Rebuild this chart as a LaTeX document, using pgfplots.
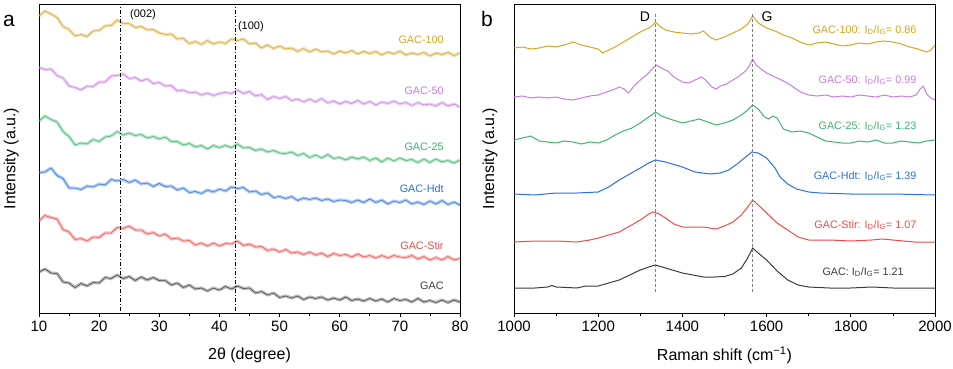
\documentclass[border=0pt]{standalone}
\usepackage{fontspec}
\setmainfont{Liberation Sans}
\usepackage{pgfplots}
\pgfplotsset{compat=1.18}
\definecolor{cgold}{HTML}{D6A520}
\definecolor{cpurp}{HTML}{C77DE0}
\definecolor{cgreen}{HTML}{3CB371}
\definecolor{cblue}{HTML}{2A6FE0}
\definecolor{cred}{HTML}{F04A4A}
\definecolor{cblack}{HTML}{3C3C3C}
\pgfplotsset{
  panel/.style={
    scale only axis, width=421pt, height=309pt,
    ymin=0, ymax=309, ytick=\empty,
    axis line style={black, line width=0.8pt},
    tick align=outside, xtick pos=bottom,
    major tick length=4pt, minor tick length=2.5pt,
    tick style={black, line width=0.7pt},
    minor x tick num=1,
    /pgf/number format/assume math mode=true,
    /pgf/number format/1000 sep={},
    ticklabel style={font=\fontsize{15}{17}\selectfont},
    label style={font=\fontsize{16}{18}\selectfont},
    clip=false,
  },
  xrdb/.style={line width=3.2pt, opacity=0.35, line join=round},
  xrd/.style={line width=0.5pt},
  ram/.style={line width=1pt},
}
\begin{document}
\begin{tikzpicture}[x=1pt,y=1pt]
\useasboundingbox (0,0) rectangle (953,368);
\node[font=\fontsize{21}{23}\selectfont, anchor=center] at (9,347) {a};
\node[font=\fontsize{21}{23}\selectfont, anchor=center] at (487,349) {b};
% ---------------- left panel: XRD ----------------
\begin{axis}[panel, at={(39pt,55pt)}, anchor=south west,
  xmin=10, xmax=80, xtick={10,20,...,80},
  xlabel={2θ (degree)},
  ylabel={Intensity (a.u.)},
  ylabel style={at={(axis description cs:-0.066,0.5)}, anchor=center},
  xlabel style={at={(axis description cs:0.5,-0.136)}, anchor=center},
]
% GAC
\def\gac{(10,41)(11,44)(12,40)(13,39.5)(14,31)(15,30)(16,25.5)(17,29.5)(18,27)(19,30.5)(20,30)(21,35.5)(22,34.5)(23,38)(24,34.5)(25,36.5)(26,32.5)(27,36)(28,33)(29,35.5)(30,32.5)(31,32.5)(32,28)(33,30)(34,25.5)(35,28)(36,24)(37,25)(38,22)(39,25)(40,23)(41,26.5)(42,24)(43,27)(44,24.5)(45,25)(46,20)(47,21.5)(48,18)(49,20)(50,15.5)(51,17)(52,15)(53,17)(54,13.5)(55,16)(56,14.5)(57,16)(58,13)(59,15)(60,13)(61,16)(62,12.5)(63,14)(64,12)(65,14.5)(66,12)(67,14)(68,11)(69,14.5)(70,12.5)(71,13.5)(72,11)(73,14.5)(74,11)(75,12.5)(76,10.5)(77,13)(78,10.5)(79,13)(80,11)}
\addplot[cblack, xrdb] coordinates {\gac};
\addplot[cblack, xrd] coordinates {\gac};
% GAC-Stir
\def\stir{(10,92)(11,97.5)(12,95.5)(13,94)(14,83.5)(15,81)(16,73.5)(17,74.5)(18,72)(19,76)(20,75.5)(21,80)(22,80)(23,85.5)(24,84.5)(25,87)(26,83)(27,83)(28,79)(29,80.5)(30,77)(31,79)(32,74)(33,75)(34,72)(35,72.5)(36,68)(37,70)(38,67)(39,70)(40,67)(41,69.5)(42,69)(43,72)(44,67.5)(45,69)(46,66)(47,66.5)(48,62.5)(49,64)(50,61)(51,63.5)(52,60)(53,61)(54,58.5)(55,61)(56,58)(57,60)(58,56.5)(59,59.5)(60,57.5)(61,58.5)(62,56)(63,59)(64,56)(65,57.5)(66,55)(67,57.5)(68,55)(69,57.5)(70,56)(71,55.5)(72,57.5)(73,54)(74,56.5)(75,53)(76,55.5)(77,53)(78,56.5)(79,53)(80,54.5)}
\addplot[cred, xrdb] coordinates {\stir};
\addplot[cred, xrd] coordinates {\stir};
% GAC-Hdt
\def\hdt{(10,140.5)(11,141)(12,145)(13,137.5)(14,134.5)(15,125)(16,125)(17,123.5)(18,127)(19,126)(20,129)(21,128)(22,133.5)(23,132)(24,133.5)(25,130.5)(26,133)(27,129)(28,130)(29,126.5)(30,129.5)(31,126.5)(32,127)(33,123)(34,125)(35,120.5)(36,121.5)(37,119.5)(38,123)(39,121)(40,124)(41,122)(42,126)(43,124.5)(44,125.5)(45,121)(46,122)(47,118.5)(48,120)(49,115.5)(50,116.5)(51,114.5)(52,116.5)(53,112.5)(54,115)(55,113.5)(56,115)(57,112.5)(58,114)(59,111.5)(60,113)(61,112.5)(62,110.5)(63,113)(64,110.5)(65,114)(66,110.5)(67,113)(68,109)(69,112)(70,110.5)(71,113)(72,109)(73,111)(74,108.5)(75,112)(76,109)(77,112.5)(78,108.5)(79,111)(80,108)}
\addplot[cblue, xrdb] coordinates {\hdt};
\addplot[cblue, xrd] coordinates {\hdt};
% GAC-25
\def\gtf{(10,192)(11,197)(12,193.5)(13,191)(14,181.5)(15,176.5)(16,168)(17,170)(18,169)(19,173.5)(20,171.5)(21,176)(22,177)(23,181.5)(24,178)(25,180)(26,177.5)(27,178.5)(28,175)(29,176.5)(30,174)(31,176)(32,171.5)(33,171.5)(34,168)(35,169.5)(36,166)(37,167.5)(38,164)(39,167.5)(40,165.5)(41,167.5)(42,165.5)(43,169)(44,165)(45,165.5)(46,162.5)(47,164)(48,161)(49,162.5)(50,160)(51,159.5)(52,161)(53,157.5)(54,159.5)(55,155.5)(56,158)(57,155)(58,158.5)(59,154.5)(60,155.5)(61,153)(62,156)(63,154)(64,156)(65,152.5)(66,155)(67,151)(68,155)(69,152)(70,155)(71,152.5)(72,153.5)(73,150.5)(74,154)(75,150.5)(76,154)(77,151)(78,152.5)(79,150)(80,153)}
\addplot[cgreen, xrdb] coordinates {\gtf};
\addplot[cgreen, xrd] coordinates {\gtf};
% GAC-50
\def\gff{(10,245.5)(11,243.5)(12,244)(13,237.5)(14,235)(15,227)(16,225.5)(17,223)(18,227)(19,226.5)(20,231)(21,231)(22,237)(23,237.5)(24,239)(25,234.5)(26,235.5)(27,232)(28,234)(29,229.5)(30,230.5)(31,227)(32,227.5)(33,222)(34,223)(35,220)(36,221)(37,218)(38,220)(39,217.5)(40,219.5)(41,220.5)(42,219.5)(43,223)(44,219.5)(45,221.5)(46,217)(47,218.5)(48,213.5)(49,216.5)(50,214.5)(51,216.5)(52,212.5)(53,214)(54,211)(55,214)(56,211)(57,214.5)(58,210)(59,212)(60,209)(61,211.5)(62,209.5)(63,212.5)(64,209)(65,211.5)(66,208)(67,211)(68,209.5)(69,212)(70,209)(71,210.5)(72,207.5)(73,210.5)(74,208)(75,209)(76,207)(77,210.5)(78,207)(79,209)(80,206)}
\addplot[cpurp, xrdb] coordinates {\gff};
\addplot[cpurp, xrd] coordinates {\gff};
% GAC-100
\def\ghd{(10,297)(11,302)(12,299)(13,295.5)(14,286.5)(15,283.5)(16,277)(17,278.5)(18,276.5)(19,282)(20,282.5)(21,287)(22,287.5)(23,293)(24,289.5)(25,289.5)(26,285.5)(27,286.5)(28,283)(29,283.5)(30,280)(31,278.5)(32,279)(33,274)(34,274.5)(35,269.5)(36,271.5)(37,268.5)(38,272.5)(39,269)(40,271)(41,269.5)(42,274)(43,272.5)(44,274)(45,269)(46,270)(47,265)(48,268)(49,264.5)(50,267)(51,264)(52,265)(53,261.5)(54,264.5)(55,261)(56,264)(57,261)(58,262)(59,259)(60,262)(61,260)(62,262.5)(63,259)(64,261.5)(65,259.5)(66,261.5)(67,258)(68,261)(69,259)(70,262)(71,258)(72,260)(73,258.5)(74,260.5)(75,257)(76,260)(77,258.5)(78,260.5)(79,257.5)(80,260)}
\addplot[cgold, xrdb] coordinates {\ghd};
\addplot[cgold, xrd] coordinates {\ghd};
% reference lines
\addplot[black, line width=0.9pt, dash pattern=on 4pt off 2pt on 1pt off 2pt] coordinates {(23.6,2) (23.6,306)};
\addplot[black, line width=0.9pt, dash pattern=on 4pt off 2pt on 1pt off 2pt] coordinates {(42.6,2) (42.6,306)};
\node[font=\fontsize{11}{12}\selectfont, anchor=center] at (axis cs:27.3,298) {(002)};
\node[font=\fontsize{11}{12}\selectfont, anchor=west, inner sep=1pt] at (axis cs:42.9,286) {(100)};
% curve labels
\begin{scope}[every node/.style={font=\fontsize{10.8}{12}\selectfont, anchor=east, inner sep=0pt}]
\node[text=cgold] at (axis cs:77.3,273) {GAC-100};
\node[text=cpurp] at (axis cs:77.3,222) {GAC-50};
\node[text=cgreen] at (axis cs:77.3,166) {GAC-25};
\node[text=cblue] at (axis cs:77.3,124) {GAC-Hdt};
\node[text=cred] at (axis cs:77.3,67) {GAC-Stir};
\node[text=cblack] at (axis cs:77.3,27) {GAC};
\end{scope}
\end{axis}
% ---------------- right panel: Raman ----------------
\begin{axis}[panel, at={(514pt,55pt)}, anchor=south west,
  xmin=1000, xmax=2000, xtick={1000,1200,...,2000},
  xlabel={Raman shift (cm\textsuperscript{−1})},
  ylabel={Intensity (a.u.)},
  ylabel style={at={(axis description cs:-0.057,0.5)}, anchor=center},
  xlabel style={at={(axis description cs:0.5,-0.136)}, anchor=center},
]
\addplot[cblack, ram] coordinates {(1000,25)(1050,25)(1080,26)(1090,27.5)(1100,26)(1150,25)(1170,27)(1200,27)(1225,30)(1250,33)(1275,38)(1300,43)(1320,46)(1336,48)(1360,45)(1400,40)(1425,38)(1450,36)(1475,36)(1500,36.5)(1520,39)(1540,45)(1555,55)(1567,65)(1580,60)(1600,53)(1625,42)(1650,33)(1675,28)(1700,26)(1750,25)(1800,25)(1850,26)(1900,25)(1950,25)(2000,25)};
\addplot[cred, ram] coordinates {(1000,71)(1050,72)(1100,72)(1150,71)(1180,73)(1200,75)(1225,78)(1250,81)(1275,87)(1300,93)(1320,99)(1330,101)(1345,99)(1360,95)(1380,89)(1400,86)(1430,86)(1450,86)(1480,84)(1500,87)(1520,91)(1540,98)(1555,106)(1567,113)(1580,108)(1600,100)(1625,90)(1650,83)(1675,76)(1700,73)(1750,73)(1800,72)(1850,73)(1875,74)(1900,73)(1950,71)(2000,71)};
\addplot[cblue, ram] coordinates {(1000,119)(1050,118)(1100,120)(1150,120)(1200,121)(1225,126)(1250,133)(1275,139)(1300,145)(1320,150)(1336,153)(1360,151)(1400,146)(1430,141)(1466,139)(1490,140)(1510,143)(1530,149)(1550,156)(1565,161)(1580,160)(1600,155)(1620,145)(1632,136)(1650,129)(1671,124)(1700,121)(1727,120)(1800,119)(1900,119)(2000,118)};
\addplot[cgreen, ram] coordinates {(1000,173)(1020,175)(1040,177)(1060,172)(1080,171)(1100,170)(1120,172)(1140,171)(1160,169)(1180,171)(1200,170)(1220,173)(1240,178)(1260,182)(1280,185)(1300,190)(1320,196)(1336,201)(1350,197)(1370,194)(1400,190)(1420,192)(1440,194)(1460,191)(1480,188)(1500,190)(1520,193)(1540,198)(1555,203)(1567,208)(1580,204)(1595,196)(1605,194)(1615,197)(1625,195)(1640,184)(1660,181)(1680,182)(1700,180)(1720,176)(1740,172)(1760,171)(1780,170)(1800,170)(1820,172)(1840,171)(1860,173)(1880,170)(1900,170)(1920,172)(1940,171)(1960,170)(1980,172)(2000,173)};
\addplot[cpurp, ram] coordinates {(1000,216)(1020,217)(1040,215)(1060,216)(1080,215)(1100,216)(1120,214)(1140,213)(1160,215)(1180,217)(1200,218)(1220,221)(1240,224)(1250,226)(1262,224)(1272,220)(1285,227)(1300,233)(1315,238)(1330,245)(1338,248)(1350,245)(1365,242)(1380,236)(1400,231)(1415,230)(1430,233)(1445,236)(1455,233)(1470,226)(1480,224)(1490,227)(1505,229)(1520,233)(1535,237)(1550,242)(1560,248)(1567,254)(1575,248)(1590,243)(1600,240)(1620,236)(1640,232)(1660,227)(1680,221)(1700,218)(1720,217)(1740,218)(1760,216)(1780,217)(1800,216)(1820,218)(1840,217)(1860,216)(1880,218)(1900,216)(1920,217)(1940,216)(1955,218)(1965,224)(1972,227)(1980,219)(1990,215)(2000,213)};
\addplot[cgold, ram] coordinates {(1000,265)(1020,266)(1040,264)(1060,265)(1080,267)(1100,266)(1120,268)(1140,271)(1160,268)(1180,266)(1200,264)(1210,260)(1220,262)(1240,266)(1260,271)(1280,276)(1300,281)(1320,285)(1330,288)(1336,291)(1345,287)(1360,283)(1380,281)(1400,280)(1420,279)(1440,280)(1450,282)(1465,276)(1480,273)(1500,276)(1520,280)(1540,284)(1555,289)(1567,297)(1580,290)(1600,285)(1620,282)(1640,278)(1660,275)(1680,271)(1700,268)(1720,270)(1740,271)(1760,269)(1780,267)(1800,268)(1820,270)(1840,269)(1860,271)(1880,272)(1900,271)(1920,269)(1940,266)(1960,264)(1980,261)(1990,263)(2000,268)};
\addplot[gray, line width=1pt, dash pattern=on 3pt off 2pt] coordinates {(1336,21) (1336,300)};
\addplot[gray, line width=1pt, dash pattern=on 3pt off 2pt] coordinates {(1567,21) (1567,300)};
\node[font=\fontsize{14}{16}\selectfont, anchor=center] at (axis cs:1311,296) {D};
\node[font=\fontsize{14}{16}\selectfont, anchor=center] at (axis cs:1601,296) {G};
\begin{scope}[every node/.style={font=\fontsize{10.8}{12}\selectfont, anchor=east, inner sep=0pt}]
\node[text=cgold] at (axis cs:1956,283) {GAC-100: I\textsubscript{D}/I\textsubscript{G}= 0.86};
\node[text=cpurp] at (axis cs:1956,233) {GAC-50: I\textsubscript{D}/I\textsubscript{G}= 0.99};
\node[text=cgreen] at (axis cs:1956,187) {GAC-25: I\textsubscript{D}/I\textsubscript{G}= 1.23};
\node[text=cblue] at (axis cs:1956,137) {GAC-Hdt: I\textsubscript{D}/I\textsubscript{G}= 1.39};
\node[text=cred] at (axis cs:1956,88) {GAC-Stir: I\textsubscript{D}/I\textsubscript{G}= 1.07};
\node[text=cblack] at (axis cs:1926,41) {GAC: I\textsubscript{D}/I\textsubscript{G}= 1.21};
\end{scope}
\end{axis}
\end{tikzpicture}
\end{document}
